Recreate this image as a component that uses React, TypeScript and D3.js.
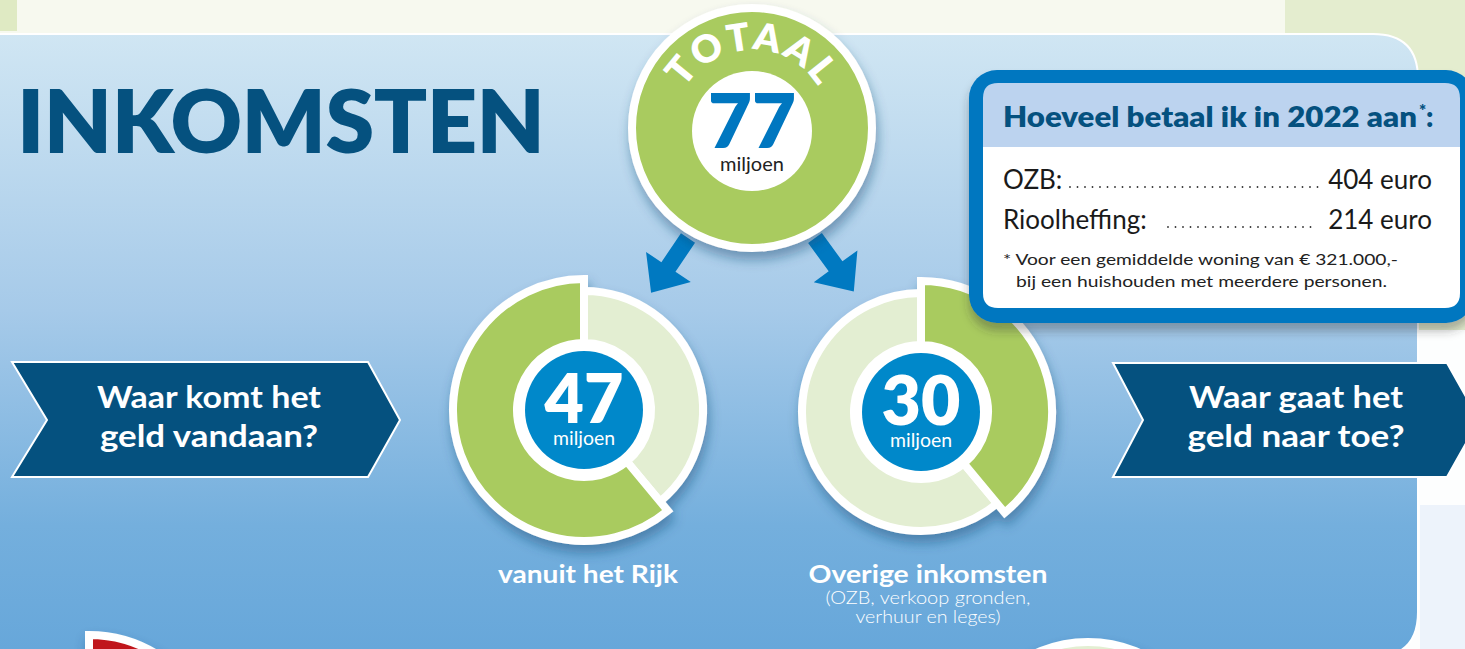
import React from 'react';
import * as d3 from 'd3';

// values read from the infographic
const totalValue = 77;
const totalWord = 'TOTAAL';
const unitLabel = 'miljoen';
const segmentValues = [47, 30];
const segmentLabels = ['vanuit het Rijk', 'Overige inkomsten'];
const segmentNotes: string[][] = [[], ['(OZB, verkoop gronden,', 'verhuur en leges)']];
const questionLines = [
  ['Waar komt het', 'geld vandaan?'],
  ['Waar gaat het', 'geld naar toe?'],
];
const taxItems = ['OZB:', 'Rioolheffing:'];
const taxAmounts = [404, 214];
const boxTitle = 'Hoeveel betaal ik in 2022 aan';
const footnoteLines = ['* Voor een gemiddelde woning van € 321.000,-', 'bij een huishouden met meerdere personen.'];

const W = 1465;
const H = 649;
const FONT = 'Lato, "Open Sans", sans-serif';
const navy = '#05517f';
const blue = '#0079c1';
const green = '#a9cb5f';
const lightGreen = '#e3eed2';

const donutCenters = [
  { x: 584, y: 410 },
  { x: 921, y: 412 },
];

// measured text widths, so the Lato glyphs cover the same room as the original face
const questionWidths = [
  [224, 218],
  [214, 217],
];
const noteWidths = [205, 145];

const arrowShape = (len: number, headLen: number, headHalf: number, shaftHalf: number) =>
  [
    [0, -shaftHalf],
    [len - headLen, -shaftHalf],
    [len - headLen, -headHalf],
    [len, 0],
    [len - headLen, headHalf],
    [len - headLen, shaftHalf],
    [0, shaftHalf],
  ]
    .map(p => p.join(','))
    .join(' ');

const topRoundedRect = (x: number, y: number, w: number, h: number, r: number) =>
  `M${x},${y + h}V${y + r}Q${x},${y} ${x + r},${y}H${x + w - r}Q${x + w},${y} ${x + w},${y + r}V${y + h}Z`;
const bottomRoundedRect = (x: number, y: number, w: number, h: number, r: number) =>
  `M${x},${y}H${x + w}V${y + h - r}Q${x + w},${y + h} ${x + w - r},${y + h}H${x + r}Q${x},${y + h} ${x},${y + h - r}Z`;

const Donut: React.FC<{ index: number }> = ({ index }) => {
  const c = donutCenters[index];
  const value = segmentValues[index];
  const rest = totalValue - value;
  // left donut: highlighted part ends at 12 o'clock; right donut: starts there
  const items = index === 0 ? [{ v: rest, hi: false }, { v: value, hi: true }] : [{ v: value, hi: true }, { v: rest, hi: false }];
  const pie = d3.pie<{ v: number; hi: boolean }>().sort(null).value(d => d.v);
  const arcs = pie(items);
  const arcSmall = d3.arc<d3.PieArcDatum<{ v: number; hi: boolean }>>().innerRadius(67).outerRadius(119);
  const arcBig = d3.arc<d3.PieArcDatum<{ v: number; hi: boolean }>>().innerRadius(67).outerRadius(131);
  const ordered = [...arcs].sort((a, b) => Number(a.data.hi) - Number(b.data.hi));
  return (
    <g transform={`translate(${c.x},${c.y})`}>
      <g filter="url(#shadow)">
        {ordered.map((a, i) => (
          <path
            key={i}
            d={(a.data.hi ? arcBig(a) : arcSmall(a)) || ''}
            fill={a.data.hi ? green : lightGreen}
            stroke="#fff"
            strokeWidth={8}
            strokeLinejoin="miter"
          />
        ))}
      </g>
      <circle r={64} fill="#fff" />
      <circle r={59} fill="#0088ca" />
      <text y={13} textAnchor="middle" fontFamily={FONT} fontWeight={800} fontSize={68} fill="#fff">
        {value}
      </text>
      <text y={35} textAnchor="middle" fontFamily={FONT} fontSize={19} fill="#fff" textLength={62} lengthAdjust="spacingAndGlyphs">
        {unitLabel}
      </text>
    </g>
  );
};

const App: React.FC = () => {
  const tc = { x: 752, y: 128 };
  const textArc = d3.path();
  textArc.arc(tc.x, tc.y, 78, -Math.PI / 2 - 1.5, -Math.PI / 2 + 1.5);

  const bottomArc = d3.arc().innerRadius(70).outerRadius(130);

  const dotsStart = [1070, 1168];
  const dotsEnd = 1318;

  return (
    <svg width={W} height={H} style={{ position: 'absolute', left: 0, top: 0 }} fontFamily={FONT}>
      <defs>
        <linearGradient id="panel" x1="0" y1="34" x2="0" y2="649" gradientUnits="userSpaceOnUse">
          <stop offset="0" stopColor="#d0e6f3" />
          <stop offset="0.45" stopColor="#a6cae9" />
          <stop offset="0.8" stopColor="#74afdd" />
          <stop offset="1" stopColor="#67a7da" />
        </linearGradient>
        <filter id="shadow" x="-20%" y="-20%" width="140%" height="150%">
          <feDropShadow dx="2" dy="8" stdDeviation="6" floodColor="#1d4a73" floodOpacity="0.45" />
        </filter>
        <filter id="boxShadow" x="-10%" y="-10%" width="120%" height="130%">
          <feDropShadow dx="0" dy="8" stdDeviation="5" floodColor="#333" floodOpacity="0.35" />
        </filter>
      </defs>

      {/* page background */}
      <rect x={0} y={0} width={W} height={H} fill="#fdfefe" />
      <rect x={0} y={0} width={W} height={33} fill="#f7f9ef" />
      <rect x={0} y={0} width={17} height={31} fill="#dfeac3" />
      <rect x={1285} y={0} width={W - 1285} height={330} fill="#e4edcf" />
      <rect x={1420} y={505} width={W - 1420} height={H - 505} fill="#edf3fb" />

      {/* blue panel */}
      <path
        d={`M-5,34H1373Q1418,34 1418,79V612Q1418,657 1373,657H-5Z`}
        fill="url(#panel)"
        stroke="#fff"
        strokeWidth={2}
      />

      {/* title */}
      <text x={17} y={153} fontSize={88} fontWeight={800} fill={navy} textLength={528} lengthAdjust="spacing">
        INKOMSTEN
      </text>

      {/* question chevrons */}
      <polygon points="12,362 368,362 400,420 368,477 12,477 47,420" fill={navy} stroke="#fff" strokeWidth={2} />
      <polygon points="1113,363 1447,363 1479,420 1447,477 1113,477 1143,420" fill={navy} stroke="#fff" strokeWidth={2} />
      {questionLines.map((lines, i) =>
        lines.map((l, j) => (
          <text
            key={`${i}-${j}`}
            x={i === 0 ? 209 : 1296}
            y={408 + j * 39}
            textAnchor="middle"
            fontSize={31}
            fontWeight={700}
            fill="#fff"
            textLength={questionWidths[i][j]}
            lengthAdjust="spacingAndGlyphs"
          >
            {l}
          </text>
        ))
      )}

      {/* arrows */}
      <polygon points={arrowShape(66, 31, 27, 8.5)} fill={blue} transform={`translate(688,238) rotate(124)`} />
      <polygon points={arrowShape(66, 31, 27, 8.5)} fill={blue} transform={`translate(815,238) rotate(54)`} />

      {/* total circle */}
      <g filter="url(#shadow)">
        <circle cx={tc.x} cy={tc.y} r={120} fill={green} stroke="#fff" strokeWidth={8} />
      </g>
      <path id="totaalArc" d={textArc.toString()} fill="none" />
      <text fontSize={38} fontWeight={800} fill="#fff" letterSpacing={2.5}>
        <textPath href="#totaalArc" startOffset="50%" textAnchor="middle">
          {totalWord}
        </textPath>
      </text>
      <circle cx={tc.x} cy={131} r={60} fill="#fff" />
      <text x={tc.x} y={148} textAnchor="middle" fontSize={76} fontWeight={800} fill="#0077c0">
        {totalValue}
      </text>
      <text x={tc.x} y={171} textAnchor="middle" fontSize={20} fill="#222">
        {unitLabel}
      </text>

      {/* donuts */}
      {segmentValues.map((_, i) => (
        <Donut key={i} index={i} />
      ))}

      {/* donut labels */}
      {segmentLabels.map((l, i) => (
        <text
          key={l}
          x={donutCenters[i].x + (i === 0 ? 4 : 7)}
          y={583}
          textAnchor="middle"
          fontSize={25}
          fontWeight={700}
          fill="#fff"
          textLength={i === 0 ? 180 : 239}
          lengthAdjust="spacingAndGlyphs"
        >
          {l}
        </text>
      ))}
      {segmentNotes.map((lines, i) =>
        lines.map((l, j) => (
          <text
            key={`${i}-${j}`}
            x={donutCenters[i].x + 7}
            y={604 + j * 19}
            textAnchor="middle"
            fontSize={17}
            fontWeight={300}
            fill="#fff"
            textLength={noteWidths[j]}
            lengthAdjust="spacingAndGlyphs"
          >
            {l}
          </text>
        ))
      )}

      {/* partial circles at the bottom */}
      <g filter="url(#shadow)">
        <path
          d={bottomArc({ innerRadius: 70, outerRadius: 130, startAngle: 0, endAngle: 2.2 } as any) || ''}
          transform="translate(89,765)"
          fill="#c0181c"
          stroke="#fff"
          strokeWidth={8}
        />
        <circle cx={1088} cy={770} r={128} fill={lightGreen} stroke="#fff" strokeWidth={8} />
      </g>

      {/* tax box */}
      <g filter="url(#boxShadow)">
        <rect x={969} y={70} width={505} height={253} rx={28} fill="#0077c0" />
      </g>
      <path d={topRoundedRect(983, 83, 477, 64, 15)} fill="#bcd3ef" />
      <path d={bottomRoundedRect(983, 147, 477, 161, 15)} fill="#fff" />
      <text x={1003} y={127} fontSize={28} fontWeight={800} fill={navy} textLength={414} lengthAdjust="spacingAndGlyphs">
        {boxTitle}
      </text>
      <text x={1419} y={117} fontSize={17} fontWeight={800} fill={navy}>
        *
      </text>
      <text x={1426} y={127} fontSize={28} fontWeight={800} fill={navy}>
        :
      </text>
      {taxItems.map((t, i) => (
        <g key={t}>
          <text x={1003} y={189 + i * 40} fontSize={26} fontWeight={400} fill="#1a1a1a">
            {t}
          </text>
          <line
            x1={dotsStart[i]}
            x2={dotsEnd}
            y1={187 + i * 40}
            y2={187 + i * 40}
            stroke="#333"
            strokeWidth={1.8}
            strokeLinecap="round"
            strokeDasharray="0 7.5"
          />
          <text x={1432} y={189 + i * 40} textAnchor="end" fontSize={26} fontWeight={400} fill="#1a1a1a">
            {`${taxAmounts[i]} euro`}
          </text>
        </g>
      ))}
      {footnoteLines.map((l, i) => (
        <text
          key={l}
          x={i === 0 ? 1003 : 1016}
          y={265 + i * 22}
          fontSize={16}
          fill="#222"
          textLength={i === 0 ? 395 : 371}
          lengthAdjust="spacingAndGlyphs"
        >
          {l}
        </text>
      ))}
    </svg>
  );
};

export default App;
